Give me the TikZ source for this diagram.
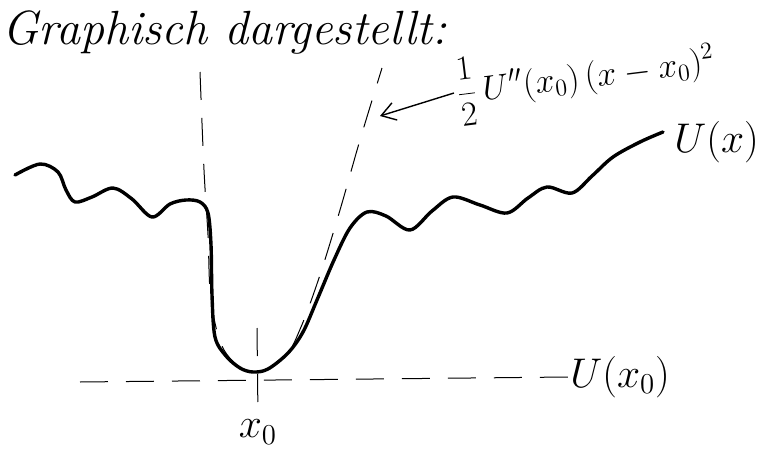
\documentclass[tikz,border=0pt]{standalone}
\usepackage{tikz}
\usetikzlibrary{arrows.meta,positioning,calc}

\begin{document}
\begin{tikzpicture}[
  x=0.5pt, y=-0.5pt,
  potential/.style={line width=1.7pt, line cap=round, line join=round},
  guide/.style={line width=0.5pt, dash pattern=on 14pt off 9pt},
  pointer/.style={-{Straight Barb[length=7pt, width=9pt]}, line width=0.7pt},
  heading/.style={font=\fontsize{24}{28}\selectfont\itshape, inner sep=0pt, anchor=base west},
  tag/.style={font=\fontsize{20}{24}\selectfont, inner sep=1pt}
]
\useasboundingbox (0,0) rectangle (772,461);

\node[heading] (title) at (2,44) {Graphisch dargestellt:};

\node[tag, anchor=west] (ux) at (672,142) {$U(x)$};
\node[tag, anchor=west, font=\fontsize{22}{26}\selectfont] (ux0) at (568,377) {$U(x_0)$};
\node[tag] (x0) at (258,432) {$x_0$};
\node[tag, anchor=west, rotate=7, font=\fontsize{17}{20}\selectfont] (parlabel) at (454,93)
  {$\displaystyle\frac{1}{2}\,U''(x_0)\,(x-x_0)^2$};

\coordinate (curveend) at (663,132);
\coordinate (parpt) at (380,116);
\coordinate (minleft) at (80,382);
\coordinate (x0top) at (257,328);

\draw[potential] plot[smooth, tension=0.55] coordinates {
  (15,175) (40,164) (58,172) (66,190) (75,202) (92,197) (113,188) (132,199)
  (152,217) (170,204) (186,200) (200,202) (208,213) (211,245) (212,295) (215,337)
  (226,356) (240,368) (253,372) (268,369) (288,353) (303,332) (317,300) (334,260)
  (350,228) (367,212) (386,216) (410,230) (432,211) (453,197) (480,205) (507,213)
  (528,198) (547,187) (572,193) (592,176) (613,157) (640,142) (curveend)};

\draw[guide] plot[smooth, tension=0.55] coordinates {
  (200,72) (204,170) (208,235) (211,300) (224,350) (253,373) (285,356) (301,327)
  (320,275) (340,210) (360,140) (382,68)};

\draw[guide] (minleft) -- (ux0.west);
\draw[guide] (x0top) -- (x0.north);
\draw[pointer] (parlabel.west) -- (parpt);

\end{tikzpicture}
\end{document}
